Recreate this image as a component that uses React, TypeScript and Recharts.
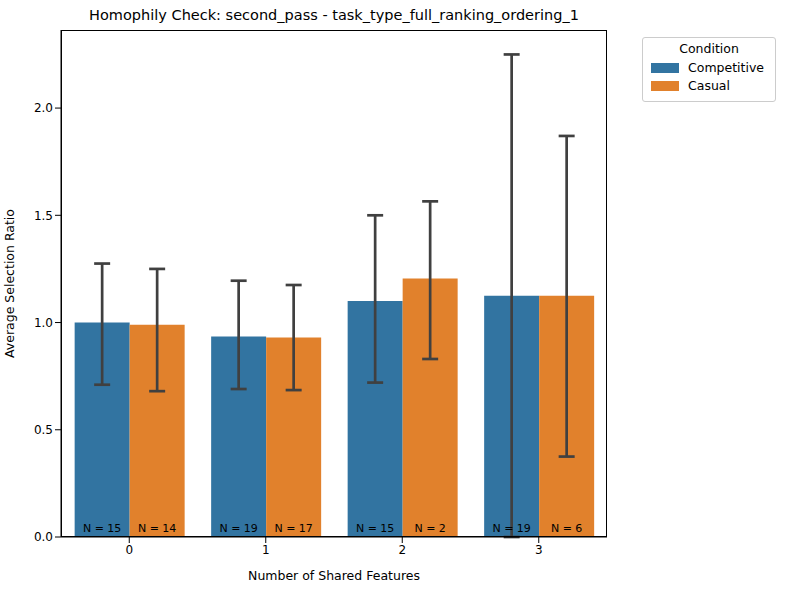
import { BarChart, Bar, XAxis, YAxis, ErrorBar, LabelList } from "recharts";

const categories = ["0", "1", "2", "3"];
const competitive = [1.0, 0.935, 1.1, 1.125];
const casual = [0.99, 0.93, 1.205, 1.125];
const compLow = [0.71, 0.69, 0.72, 0.0];
const compHigh = [1.275, 1.195, 1.5, 2.25];
const casLow = [0.68, 0.685, 0.83, 0.375];
const casHigh = [1.25, 1.175, 1.565, 1.87];
const compN = [15, 19, 15, 19];
const casN = [14, 17, 2, 6];

const COMP = "#3274a1";
const CAS = "#e1812c";
const FONT = "DejaVu Sans, sans-serif";

const data = categories.map((c, i) => ({
  cat: c,
  Competitive: competitive[i],
  Casual: casual[i],
  compErr: [competitive[i] - compLow[i], compHigh[i] - competitive[i]],
  casErr: [casual[i] - casLow[i], casHigh[i] - casual[i]],
  compN: "N = " + compN[i],
  casN: "N = " + casN[i],
}));

const BottomLabel = (props: any) => {
  const { x, y, width, height, value } = props;
  return (
    <text x={x + width / 2} y={y + height - 5} textAnchor="middle" fontSize={11} fontFamily={FONT} fill="#000">
      {value}
    </text>
  );
};

export default function App() {
  return (
    <div style={{ position: "absolute", left: 0, top: 0, width: 786, height: 590, background: "#fff", fontFamily: FONT }}>
      <div style={{ position: "absolute", left: 0, width: 668, top: 7, textAlign: "center", fontSize: 14.5 }}>
        Homophily Check: second_pass - task_type_full_ranking_ordering_1
      </div>
      <BarChart width={786} height={590} data={data} margin={{ top: 30, right: 179, bottom: 0, left: 0 }} barCategoryGap="10%" barGap={0}>
        <XAxis
          dataKey="cat"
          height={53}
          tick={{ fontSize: 12, fill: "#000", fontFamily: FONT }}
          tickLine={{ stroke: "#000" }}
          axisLine={{ stroke: "#000" }}
          label={{ value: "Number of Shared Features", position: "insideBottom", offset: 10, fontSize: 12.5, fill: "#000", fontFamily: FONT }}
        />
        <YAxis
          width={61}
          type="number"
          domain={[0, 2.364]}
          ticks={[0, 0.5, 1, 1.5, 2]}
          tickFormatter={(v: number) => v.toFixed(1)}
          tick={{ fontSize: 12, fill: "#000", fontFamily: FONT }}
          tickLine={{ stroke: "#000" }}
          axisLine={{ stroke: "#000" }}
          label={{ value: "Average Selection Ratio", angle: -90, position: "insideLeft", offset: 10, style: { textAnchor: "middle" }, fontSize: 12.5, fill: "#000", fontFamily: FONT }}
        />
        <Bar dataKey="Competitive" fill={COMP} isAnimationActive={false}>
          <ErrorBar dataKey="compErr" width={8} stroke="#404040" strokeWidth={2.7} />
          <LabelList dataKey="compN" content={BottomLabel} />
        </Bar>
        <Bar dataKey="Casual" fill={CAS} isAnimationActive={false}>
          <ErrorBar dataKey="casErr" width={8} stroke="#404040" strokeWidth={2.7} />
          <LabelList dataKey="casN" content={BottomLabel} />
        </Bar>
      </BarChart>
      <div style={{ position: "absolute", left: 61, top: 30, width: 546, height: 507, border: "1px solid #000", boxSizing: "border-box", pointerEvents: "none" }} />
      <div style={{ position: "absolute", left: 642, top: 37, width: 134, border: "1px solid #ccc", borderRadius: 3, padding: "3px 8px 5px", boxSizing: "border-box", fontSize: 12.5 }}>
        <div style={{ textAlign: "center", marginBottom: 4 }}>Condition</div>
        {[["Competitive", COMP], ["Casual", CAS]].map(([n, c]) => (
          <div key={n} style={{ display: "flex", alignItems: "center", marginBottom: 3 }}>
            <span style={{ width: 28, height: 10, background: c, marginRight: 9 }} />
            <span>{n}</span>
          </div>
        ))}
      </div>
    </div>
  );
}
